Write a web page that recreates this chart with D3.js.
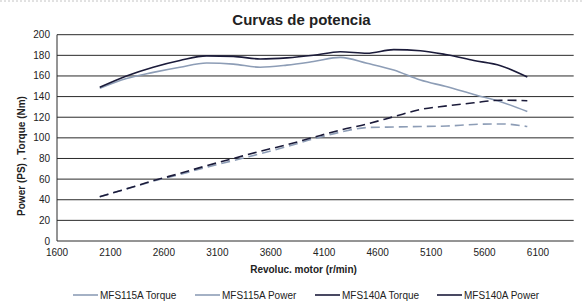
<!DOCTYPE html>
<html>
<head>
<meta charset="utf-8">
<script src="https://cdn.jsdelivr.net/npm/d3@7"></script>
<style>
  body { margin: 0; background: #fff; }
  text { font-family: "Liberation Sans", Arial, sans-serif; fill: #222; }
</style>
</head>
<body>
<div id="chart"></div>
<script>
// data
var rpm = [2000, 2250, 2500, 2750, 3000, 3250, 3500, 3750, 4000, 4250, 4500, 4750, 5000, 5250, 5500, 5750, 6000];
var mfs115Torque = [148, 157.5, 163.5, 168.5, 172.5, 171.5, 168.5, 170.5, 174, 178, 172.3, 165.8, 156, 149.5, 142, 135, 125.5];
var mfs115Power  = [43, 50.5, 58, 64.5, 71.5, 78, 84.5, 91.5, 99, 105.5, 110, 110.5, 111, 111.5, 113, 113.5, 111];
var mfs140Torque = [149, 160, 168.5, 175, 179.5, 179, 176.5, 177.5, 180, 183.5, 182, 185.5, 184.5, 180.5, 175, 170, 159];
var mfs140Power  = [43, 50.5, 58.5, 65.5, 73, 80, 87, 93.3, 100.5, 107.5, 113.5, 120.5, 127.5, 131, 134, 136.5, 136];
var xTicks = [1600, 2100, 2600, 3100, 3600, 4100, 4600, 5100, 5600, 6100];
var yTicks = [0, 20, 40, 60, 80, 100, 120, 140, 160, 180, 200];

var series = [
  {name: "MFS115A Torque", values: mfs115Torque, color: "#8d9db6", dash: null},
  {name: "MFS115A Power",  values: mfs115Power,  color: "#8d9db6", dash: "9,5"},
  {name: "MFS140A Torque", values: mfs140Torque, color: "#1b1b3a", dash: null},
  {name: "MFS140A Power",  values: mfs140Power,  color: "#1b1b3a", dash: "9,5"}
];

var W = 582, H = 301;
var svg = d3.select("#chart").append("svg")
  .attr("width", W).attr("height", H);

// dotted border on top
svg.append("line")
  .attr("x1", 0).attr("x2", W).attr("y1", 1).attr("y2", 1)
  .attr("stroke", "#c4c4c4").attr("stroke-dasharray", "2,2");

var x = d3.scaleLinear().domain([1600, 6434]).range([57, 573.7]);
var y = d3.scaleLinear().domain([0, 200]).range([241, 34.7]);

// grid lines
svg.append("g")
  .selectAll("line")
  .data(yTicks)
  .enter().append("line")
    .attr("x1", x(1600)).attr("x2", x(6434))
    .attr("y1", function(d) { return y(d); })
    .attr("y2", function(d) { return y(d); })
    .attr("stroke", "#2a2a2a")
    .attr("stroke-width", 1);

// left axis line
svg.append("line")
  .attr("x1", x(1600)).attr("x2", x(1600))
  .attr("y1", y(0)).attr("y2", y(200))
  .attr("stroke", "#2a2a2a");

// y tick labels
svg.append("g")
  .selectAll("text")
  .data(yTicks)
  .enter().append("text")
    .attr("x", 50)
    .attr("y", function(d) { return y(d) + 3.5; })
    .attr("text-anchor", "end")
    .attr("font-size", "10px")
    .text(function(d) { return d; });

// x tick labels
svg.append("g")
  .selectAll("text")
  .data(xTicks)
  .enter().append("text")
    .attr("x", function(d) { return x(d); })
    .attr("y", 256)
    .attr("text-anchor", "middle")
    .attr("font-size", "10px")
    .text(function(d) { return d; });

// lines
var line = d3.line()
  .x(function(d) { return x(d[0]); })
  .y(function(d) { return y(d[1]); })
  .curve(d3.curveMonotoneX);

svg.append("g")
  .selectAll("path")
  .data(series)
  .enter().append("path")
    .attr("d", function(s) { return line(rpm.map(function(r, i) { return [r, s.values[i]]; })); })
    .attr("fill", "none")
    .attr("stroke", function(s) { return s.color; })
    .attr("stroke-width", 1.6)
    .attr("stroke-dasharray", function(s) { return s.dash; });

// titles
svg.append("text")
  .attr("x", 301.5).attr("y", 25)
  .attr("text-anchor", "middle")
  .attr("font-size", "15px")
  .attr("font-weight", "bold")
  .text("Curvas de potencia");

svg.append("text")
  .attr("x", 303.5).attr("y", 273)
  .attr("text-anchor", "middle")
  .attr("font-size", "10px")
  .attr("font-weight", "bold")
  .text("Revoluc. motor (r/min)");

svg.append("text")
  .attr("transform", "translate(25,156) rotate(-90)")
  .attr("text-anchor", "middle")
  .attr("font-size", "10px")
  .attr("font-weight", "bold")
  .text("Power (PS) , Torque (Nm)");

// legend
var legendX = [73, 195, 315, 437];
var leg = svg.append("g")
  .selectAll("g")
  .data(series)
  .enter().append("g")
    .attr("transform", function(d, i) { return "translate(" + legendX[i] + ",295)"; });

leg.append("line")
  .attr("x1", 0).attr("x2", 25)
  .attr("stroke", function(d) { return d.color; })
  .attr("stroke-width", 1.6);

leg.append("text")
  .attr("x", 27).attr("y", 3.5)
  .attr("font-size", "10px")
  .text(function(d) { return d.name; });
</script>
</body>
</html>
